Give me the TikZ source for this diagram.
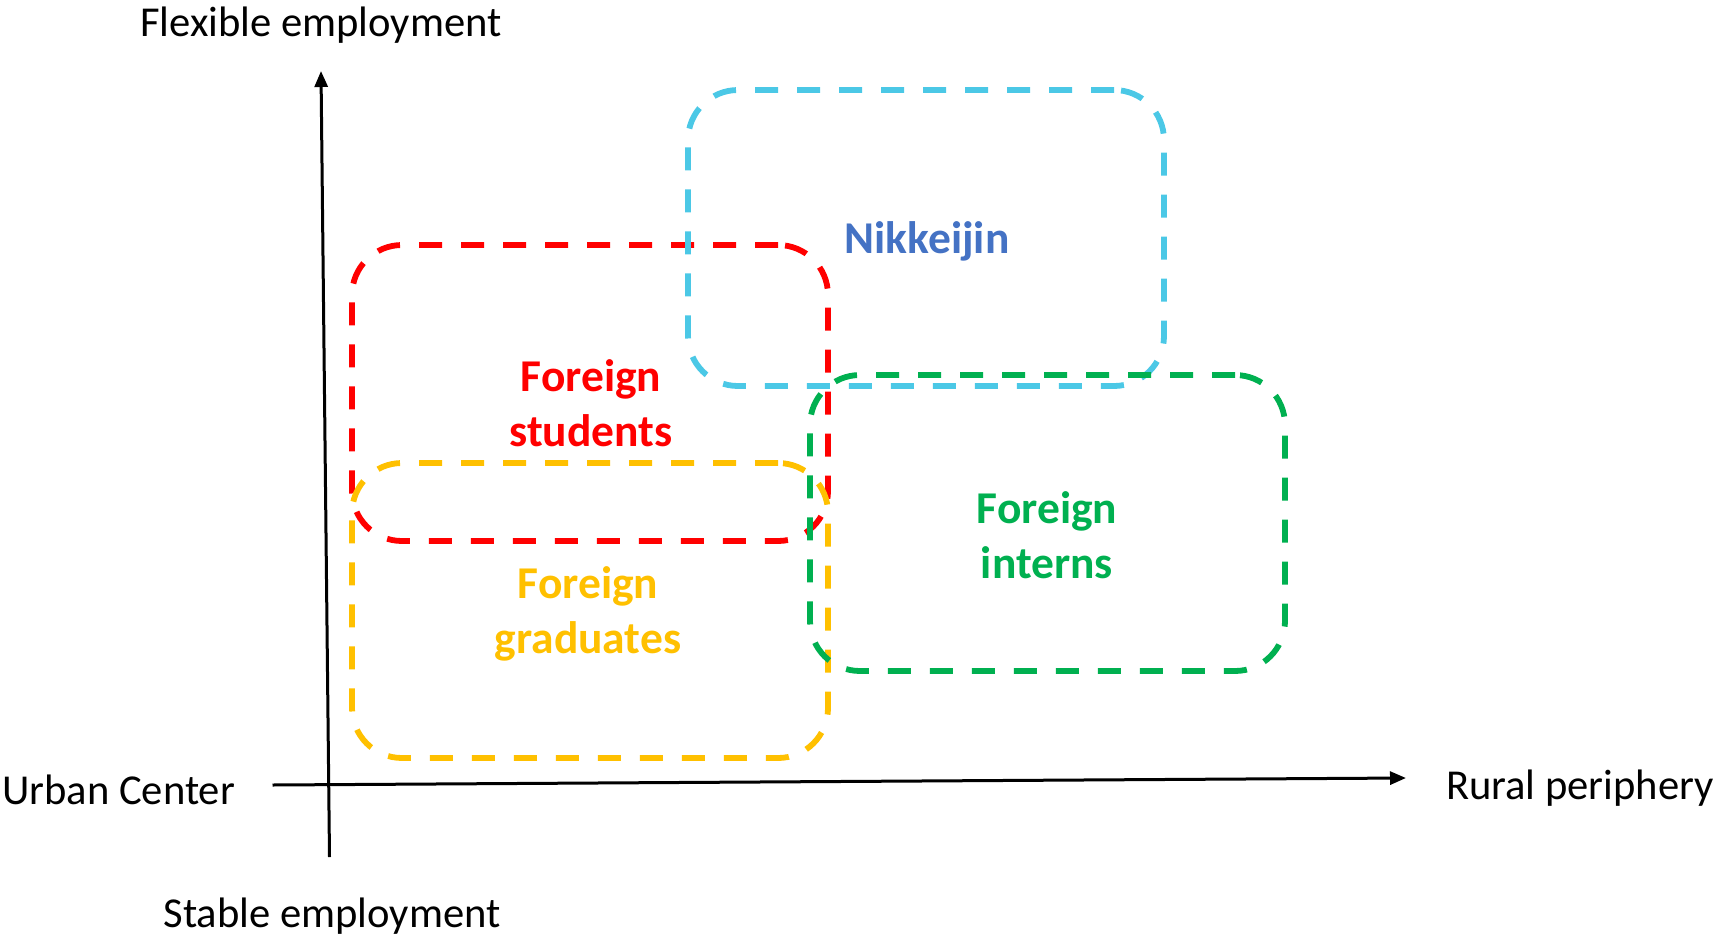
\documentclass[tikz,border=0pt]{standalone}
\usepackage{fontspec}
\setmainfont{Carlito}
\usetikzlibrary{arrows.meta}
\definecolor{cblue}{HTML}{4BC8E6}
\definecolor{cred}{HTML}{FF0000}
\definecolor{cyellow}{HTML}{FFC000}
\definecolor{cgreen}{HTML}{00B050}
\definecolor{ctext}{HTML}{4472C4}
\tikzset{
  grp/.style={draw, line width=5.8pt, dash pattern=on 23pt off 19pt, rounded corners=50pt, inner sep=0pt, fill=none},
  axis/.style={line width=3pt, -{Triangle[length=16pt,width=13pt]}},
  axlabel/.style={font=\fontsize{42.6}{50}\selectfont, inner sep=0pt},
  grplabel/.style={font=\fontsize{45.5}{55}\selectfont\bfseries, align=center, inner sep=0pt},
}
\begin{document}
\begin{tikzpicture}[x=1pt,y=-1pt]
\useasboundingbox (0,0) rectangle (1716,937);
% groups
\node[grp, cred, minimum width=476pt, minimum height=296pt] (red) at (590,393) {};
\node[grp, cyellow, minimum width=476pt, minimum height=295pt] (yellow) at (590,610.5) {};
\node[grp, cblue, minimum width=476pt, minimum height=296pt] (blue) at (926,238) {};
\node[grp, cgreen, minimum width=475pt, minimum height=296pt] (green) at (1047.5,523) {};
% labels
\node[grplabel, text=ctext] (nik) at (927,241) {Nikkeijin};
\node[grplabel, text=cred] (stu) at (591,403) {Foreign\\students};
\node[grplabel, text=cyellow] (grad) at (588,614) {Foreign\\graduates};
\node[grplabel, text=cgreen] (int) at (1047,535) {Foreign\\interns};
% axes
\coordinate (ybot) at (329.5,857);
\coordinate (ytop) at (321,71);
\coordinate (xleft) at (272.5,785);
\coordinate (xright) at (1406,778);
\draw[axis] (ybot) -- (ytop);
\draw[axis] (xleft) -- (xright);
\node[axlabel] (flex) at (321,25) {Flexible employment};
\node[axlabel] (stab) at (332,916) {Stable employment};
\node[axlabel, anchor=west] (urban) at (2,790) {Urban Center};
\node[axlabel, anchor=east] (rural) at (1714,788) {Rural periphery};
\end{tikzpicture}
\end{document}
